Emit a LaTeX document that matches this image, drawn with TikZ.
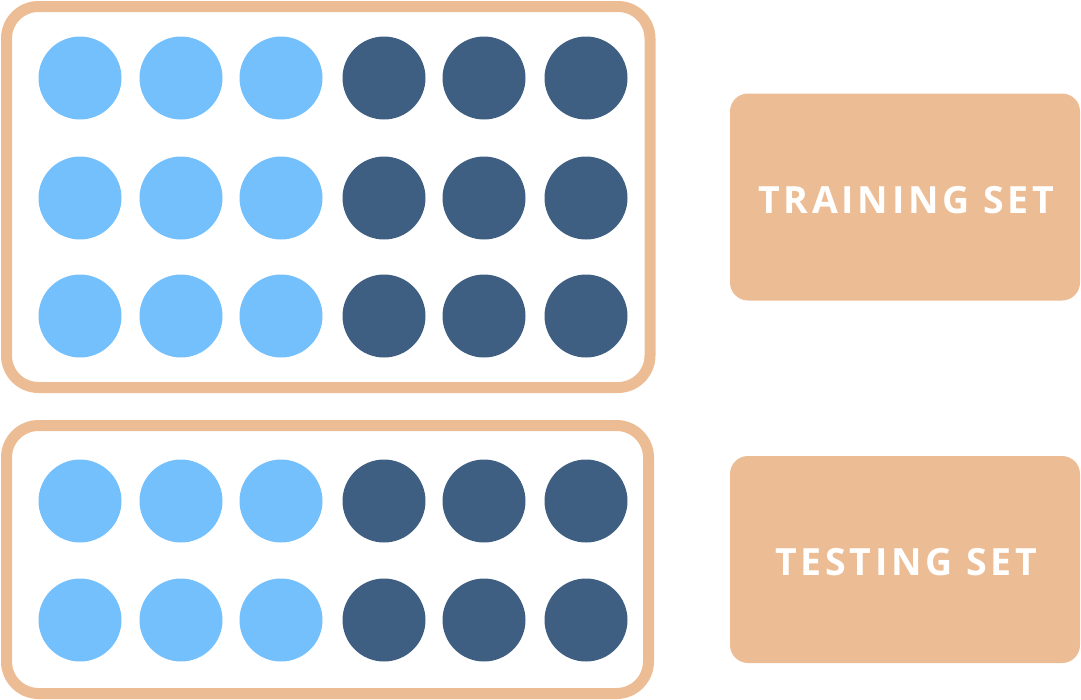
\documentclass[tikz,border=0pt]{standalone}
\usepackage{fontspec}
\newfontfamily\labelfont[LetterSpace=10]{Open Sans Bold}
\definecolor{lightblue}{HTML}{74C0FC}
\definecolor{darkblue}{HTML}{3F5F82}
\definecolor{peach}{HTML}{ECBD95}
\begin{document}
\begin{tikzpicture}[x=1pt,y=-1pt,
  frame/.style={draw=peach,line width=11pt,rounded corners=32pt},
  lightdot/.style={circle,fill=lightblue,minimum size=83pt,inner sep=0pt},
  darkdot/.style={circle,fill=darkblue,minimum size=83pt,inner sep=0pt},
  labelbox/.style={fill=peach,rounded corners=18pt,minimum width=350pt,minimum height=207pt,inner sep=0pt},
  labeltext/.style={inner sep=0pt,text=white,font=\labelfont\fontsize{37.5}{40}\selectfont}]
\useasboundingbox (0,0) rectangle (1081,699);
\draw[frame] (6.5,6.5) rectangle (650,387.5);
\draw[frame] (6.5,425.5) rectangle (648.5,693.5);
\foreach \y [count=\r] in {78,198,316}{
  \foreach \x [count=\c] in {80,181,281}{
    \node[lightdot] (t\r\c) at (\x,\y) {};
  }
  \foreach \x [count=\c from 4] in {384,484,586}{
    \node[darkdot] (t\r\c) at (\x,\y) {};
  }
}
\foreach \y [count=\r] in {501,620}{
  \foreach \x [count=\c] in {80,181,281}{
    \node[lightdot] (b\r\c) at (\x,\y) {};
  }
  \foreach \x [count=\c from 4] in {384,484,586}{
    \node[darkdot] (b\r\c) at (\x,\y) {};
  }
}
\node[labelbox] (train) at (905,197) {};
\node[labelbox] (test) at (905,559.5) {};
\node[labeltext] (traintext) at (906,200) {TRAINING SET};
\node[labeltext] (testtext) at (906,562.5) {TESTING SET};
\end{tikzpicture}
\end{document}
